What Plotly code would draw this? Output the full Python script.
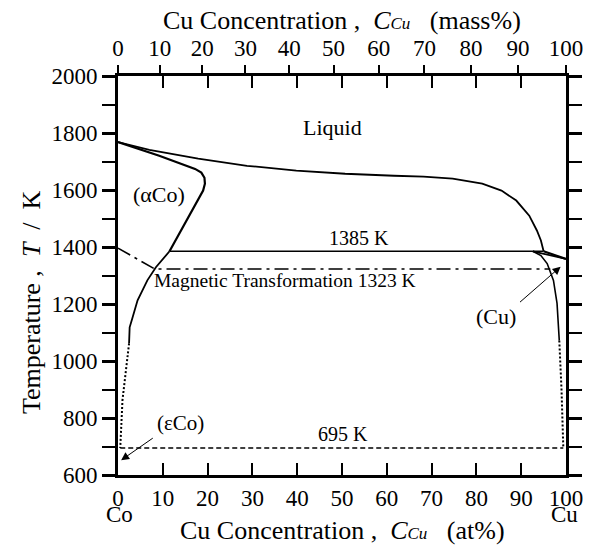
import plotly.graph_objects as go

# ---------------- data (at% Cu, temperature K) ----------------
liq_x = [0, 7.0, 17.9, 28.8, 39.8, 50.7, 61.6, 68.2, 74.7, 81.3, 85.6, 88.9, 91.8, 93.5, 94.4, 95.0]
liq_T = [1768, 1741, 1710, 1685, 1668, 1657, 1650, 1647, 1640, 1622, 1598, 1563, 1510, 1458, 1423, 1385]

sol_co_x = [0, 9.2, 17.2, 18.6, 19.3, 19.4, 19.0, 11.5]
sol_co_T = [1768, 1720, 1674, 1661, 1643, 1622, 1598, 1385]

solv_co_x = [11.5, 8.46, 6.55, 4.37, 3.2, 2.6, 2.47]
solv_co_T = [1385, 1329, 1283, 1213, 1150, 1118, 1062]
solv_co_dot_x = [2.47, 1.9, 1.0, 0.5]
solv_co_dot_T = [1062, 979, 863, 695]

peri_x = [11.5, 95.0]
peri_T = [1385, 1385]

liq_cu_x = [95.0, 100]
liq_cu_T = [1385, 1358]
sol_cu_x = [92.6, 100]
sol_cu_T = [1385, 1358]

solv_cu_x = [92.6, 94.4, 95.8, 97.2, 98.0, 98.5]
solv_cu_T = [1385, 1370, 1342, 1283, 1202, 1072]
solv_cu_dot_x = [98.5, 99.0, 99.4]
solv_cu_dot_T = [1072, 900, 695]

mag_x = [0, 8.2, 96.5]
mag_T = [1396, 1323, 1323]

eut_x = [0.5, 99.4]
eut_T = [695, 695]

mass_ticks = [0, 10, 20, 30, 40, 50, 60, 70, 80, 90, 100]
at_ticks = [0, 10, 20, 30, 40, 50, 60, 70, 80, 90, 100]
y_ticks = [600, 800, 1000, 1200, 1400, 1600, 1800, 2000]

M_CO, M_CU = 58.933, 63.546


def mass_to_at(m):
    if m <= 0:
        return 0.0
    if m >= 100:
        return 100.0
    a = m / M_CU
    b = (100 - m) / M_CO
    return 100 * a / (a + b)


FONT = "Liberation Serif"
K = "black"

fig = go.Figure()


def line(x, y, width=2, dash=None):
    fig.add_trace(go.Scatter(x=x, y=y, mode="lines", hoverinfo="skip",
                             line=dict(color=K, width=width, dash=dash)))


line(liq_x, liq_T, 1.8)
line(sol_co_x, sol_co_T, 2.2)
line(solv_co_x, solv_co_T, 1.8)
line(solv_co_dot_x, solv_co_dot_T, 2, "2px,2px")
line(peri_x, peri_T, 1.5)
line(liq_cu_x, liq_cu_T, 2.2)
line(sol_cu_x, sol_cu_T, 1.8)
line(solv_cu_x, solv_cu_T, 1.6)
line(solv_cu_dot_x, solv_cu_dot_T, 2, "2px,2px")
line(mag_x, mag_T, 1.6, "14px,5px,3px,5px")
line(eut_x, eut_T, 1.4, "5px,3px")

# invisible trace on top axis
fig.add_trace(go.Scatter(x=[0, 100], y=[600, 600], xaxis="x2", mode="lines",
                         line=dict(width=0), hoverinfo="skip", showlegend=False))

ann = []


def txt(x, y, s, size=21, xref="x", yref="y", angle=0, xanchor="center"):
    ann.append(dict(x=x, y=y, xref=xref, yref=yref, text=s, showarrow=False,
                    textangle=angle, xanchor=xanchor, yanchor="middle",
                    font=dict(family=FONT, size=size, color=K)))


txt(47.8, 1818, "Liquid", 22)
txt(9.1, 1584, "(αCo)", 22)
txt(53.7, 1430, "1385 K", 20)
txt(37.2, 1283, "Magnetic Transformation 1323 K", 19.5)
txt(84.3, 1157, "(Cu)", 22)
txt(14.0, 782, "(εCo)", 21)
txt(50.3, 743, "695 K", 20)

NB = "\u00a0"
sub = "<i>C<span style='font-size:17px'>Cu</span></i>"
txt(50, -0.14, "Cu Concentration ," + NB * 2 + sub + NB * 3 + "(at%)", 26, yref="paper")
txt(50, 1.14, "Cu Concentration ," + NB * 2 + sub + NB * 3 + "(mass%)", 26, yref="paper")
txt(-0.193, 1205, "Temperature ," + NB * 2 + "<i>T</i>" + NB * 2 + "/" + NB * 2 + "K", 26,
    xref="paper", angle=-90)
txt(0.4, -0.1, "Co", 23, yref="paper")
txt(99.6, -0.1, "Cu", 23, yref="paper")

# arrows
for (tx, ty, hx, hy) in [(8.1, 733, 0.7, 652), (89.4, 1202, 98.8, 1331)]:
    ann.append(dict(x=hx, y=hy, ax=tx, ay=ty, xref="x", yref="y", axref="x", ayref="y",
                    text="", showarrow=True, arrowhead=2, arrowsize=1.6, arrowwidth=1,
                    arrowcolor=K))

fig.update_layout(
    width=595, height=545,
    margin=dict(l=118, r=19, t=76, b=70),
    plot_bgcolor="white", paper_bgcolor="white",
    showlegend=False,
    font=dict(family=FONT, size=22, color=K),
    annotations=ann,
    xaxis=dict(range=[0, 100], tickvals=at_ticks, ticks="inside", ticklen=12,
               tickwidth=1.5, tickcolor=K, showline=True, linewidth=3, linecolor=K,
               mirror="ticks", showgrid=False, zeroline=False,
               tickfont=dict(family=FONT, size=23, color=K)),
    xaxis2=dict(range=[0, 100], overlaying="x", side="top", anchor="y",
                tickvals=[mass_to_at(m) for m in mass_ticks],
                ticktext=[str(m) for m in mass_ticks],
                ticks="outside", ticklen=10, tickwidth=1.5, tickcolor=K,
                showline=False, showgrid=False, zeroline=False,
                tickfont=dict(family=FONT, size=23, color=K)),
    yaxis=dict(range=[600, 2000], tickvals=y_ticks, ticks="outside", ticklen=13,
               tickwidth=3, tickcolor=K, showline=True, linewidth=3, linecolor=K,
               mirror="ticks", showgrid=False, zeroline=False,
               minor=dict(dtick=100, tick0=600, ticks="outside", ticklen=13,
                          tickwidth=1.5, tickcolor=K, showgrid=False),
               tickfont=dict(family=FONT, size=23, color=K)),
)

fig.write_html("out.html")
